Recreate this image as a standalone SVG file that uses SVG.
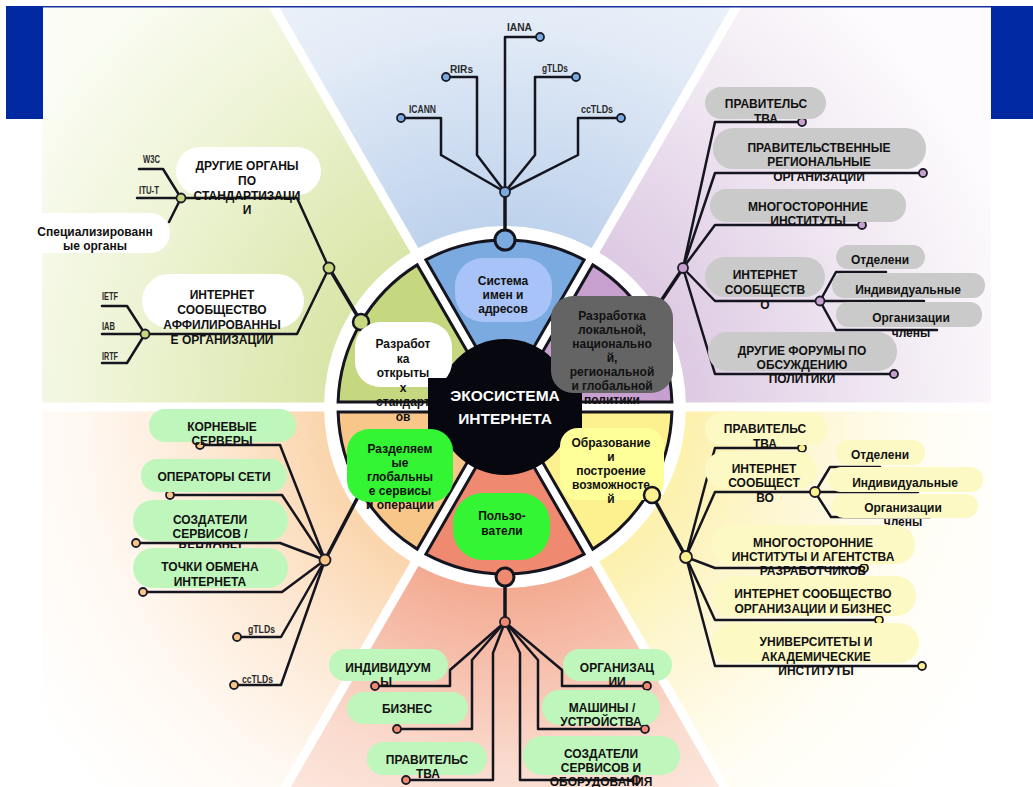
<svg xmlns="http://www.w3.org/2000/svg" width="1033" height="787" viewBox="0 0 1033 787">
<style>
.ln{fill:none;stroke:#15151f;stroke-width:2.5;stroke-linejoin:round;stroke-linecap:round}
.lt{fill:none;stroke:#15151f;stroke-width:3.5;stroke-linecap:round}
.seg{stroke:#15151f;stroke-width:3}
.dot{stroke:#1c1c28;stroke-width:1.8}
.bt{font-family:"Liberation Sans",Arial,sans-serif;font-weight:bold;font-size:12px;fill:#111;text-anchor:middle}
.sm{font-family:"Liberation Sans",Arial,sans-serif;font-weight:bold;font-size:11.5px;fill:#2a2a2a}
.eco{font-family:"Liberation Sans",Arial,sans-serif;font-weight:bold;font-size:15.5px;fill:#fff;text-anchor:middle}
.gray{fill:#cacaca}.wh{fill:#fff}.lg{fill:#bff6bc}.ly{fill:#fdf9c4}
.cb{fill:#7aaadf}.cg{fill:#c5d77f}.cl{fill:#c8a0cf}.co{fill:#f9c68a}.cs{fill:#ef8a70}.cy{fill:#fdf08f}
.band{stroke:#fff;stroke-width:9}
</style>
<defs>
<radialGradient id="gG" gradientUnits="userSpaceOnUse" cx="505" cy="407" r="560"><stop offset="0.3" stop-color="#d8e5a6"/><stop offset="0.7" stop-color="#eef4d6"/><stop offset="1" stop-color="#fbfdf5"/></radialGradient>
<radialGradient id="gB" gradientUnits="userSpaceOnUse" cx="505" cy="407" r="560"><stop offset="0.3" stop-color="#bcd1ec"/><stop offset="0.7" stop-color="#e4ecf7"/><stop offset="1" stop-color="#f5f8fc"/></radialGradient>
<radialGradient id="gL" gradientUnits="userSpaceOnUse" cx="505" cy="407" r="560"><stop offset="0.3" stop-color="#dcc8e2"/><stop offset="0.65" stop-color="#efe6f1"/><stop offset="0.95" stop-color="#fdfbfd"/></radialGradient>
<radialGradient id="gO" gradientUnits="userSpaceOnUse" cx="505" cy="407" r="560"><stop offset="0.3" stop-color="#fad3a8"/><stop offset="0.5" stop-color="#fde6cf"/><stop offset="0.75" stop-color="#fff8f1"/><stop offset="1" stop-color="#ffffff"/></radialGradient>
<radialGradient id="gS" gradientUnits="userSpaceOnUse" cx="505" cy="407" r="560"><stop offset="0.3" stop-color="#f3a78e"/><stop offset="0.65" stop-color="#fadccf"/><stop offset="1" stop-color="#fff5f1"/></radialGradient>
<radialGradient id="gY" gradientUnits="userSpaceOnUse" cx="505" cy="407" r="560"><stop offset="0.3" stop-color="#fcf0a8"/><stop offset="0.5" stop-color="#fdf6cf"/><stop offset="0.75" stop-color="#fffdf3"/><stop offset="1" stop-color="#ffffff"/></radialGradient>
</defs>
<rect width="1033" height="787" fill="#fff"/>
<g id="background">
<polygon points="505,407 273,7 0,7 0,407" fill="url(#gG)"/>
<polygon points="505,407 273,7 737,7" fill="url(#gB)"/>
<polygon points="505,407 737,7 1033,7 1033,407" fill="url(#gL)"/>
<polygon points="505,407 0,407 0,787 286,787" fill="url(#gO)"/>
<polygon points="505,407 286,787 724,787" fill="url(#gS)"/>
<polygon points="505,407 724,787 1033,787 1033,407" fill="url(#gY)"/>
<path class="band" d="M505,407 L268,-3 M505,407 L742,-3 M505,407 L281,795 M505,407 L729,795 M0,407 L1033,407"/>
<rect x="0" y="0" width="42" height="787" fill="#fff"/>
<rect x="991" y="0" width="42" height="787" fill="#fff"/>
<rect x="0" y="0" width="1033" height="6" fill="#fff"/>
<rect x="6" y="6" width="1027" height="1.5" fill="#1a2fa0"/>
<rect x="6" y="6" width="37" height="113" fill="#0028a0"/>
<rect x="991" y="6" width="42" height="113" fill="#0028a0"/>
</g>
<g id="wheel">
<circle cx="505" cy="407" r="181" fill="#fff"/>
<path class="seg cl" d="M671.9,402 A167,167 0 0 0 592.8,264.9 L539.2,357.7 A60,60 0 0 1 564.8,402 Z"/>
<path class="seg cb" d="M584.1,259.9 A167,167 0 0 0 425.9,259.9 L479.4,352.7 A60,60 0 0 1 530.6,352.7 Z"/>
<path class="seg cg" d="M417.2,264.9 A167,167 0 0 0 338.1,402 L445.2,402 A60,60 0 0 1 470.8,357.7 Z"/>
<path class="seg co" d="M338.1,412 A167,167 0 0 0 417.2,549.1 L470.8,456.3 A60,60 0 0 1 445.2,412 Z"/>
<path class="seg cs" d="M425.9,554.1 A167,167 0 0 0 584.1,554.1 L530.6,461.3 A60,60 0 0 1 479.4,461.3 Z"/>
<path class="seg cy" d="M592.8,549.1 A167,167 0 0 0 671.9,412 L564.8,412 A60,60 0 0 1 539.2,456.3 Z"/>
<circle cx="505" cy="407" r="68" fill="#07080f"/>
</g>
<g id="connectors">
<path class="lt" d="M505,240 L505,192"/>
<path class="ln" d="M505,192 L505,37 L540,37"/>
<path class="ln" d="M505,192 L477,155 L477,77 L446,77"/>
<path class="ln" d="M505,192 L441,155 L441,118 L401,118"/>
<path class="ln" d="M505,192 L535,155 L535,77 L576,77"/>
<path class="ln" d="M505,192 L578,155 L578,118 L621,118"/>
<circle class="cb" cx="505" cy="240" r="10" stroke="#15151f" stroke-width="3"/>
<circle class="dot cb" cx="505" cy="192" r="5"/>
<circle class="dot cb" cx="540" cy="37" r="4"/><circle class="dot cb" cx="446" cy="77" r="4"/><circle class="dot cb" cx="401" cy="118" r="4"/><circle class="dot cb" cx="576" cy="77" r="4"/><circle class="dot cb" cx="621" cy="118" r="4"/>

<path class="lt" d="M361,322 L329,268"/>
<path class="ln" d="M329,268 L297,198 L181,198"/>
<path class="ln" d="M329,268 L297,334 L145,334"/>
<path class="ln" d="M181,198 L163,169 L139,169"/>
<path class="ln" d="M181,198 L137,198"/>
<path class="ln" d="M181,198 L169,222"/>
<path class="ln" d="M145,334 L127,306 L102,306"/>
<path class="ln" d="M145,334 L102,334"/>
<path class="ln" d="M145,334 L127,363 L102,363"/>
<circle class="cg" cx="361" cy="322" r="8" stroke="#15151f" stroke-width="2.5"/>
<circle class="dot cg" cx="329" cy="268" r="5.5"/>
<circle class="dot cg" cx="181" cy="198" r="4.5"/>
<circle class="dot cg" cx="145" cy="334" r="4.5"/>

<path class="lt" d="M683,268 L645,325"/>
<path class="ln" d="M683,268 L715,122 L802,122"/>
<path class="ln" d="M683,268 L715,173 L923,173"/>
<path class="ln" d="M683,268 L715,225 L862,225"/>
<path class="ln" d="M683,268 L715,301 L820,301"/>
<path class="ln" d="M683,268 L715,374 L894,374"/>
<path class="ln" d="M820,301 L836,272 L886,272"/>
<path class="ln" d="M820,301 L924,301"/>
<path class="ln" d="M820,301 L836,330 L937,330"/>
<circle class="dot cl" cx="683" cy="268" r="5"/>
<circle class="dot cl" cx="820" cy="301" r="4.5"/>
<circle class="dot cl" cx="802" cy="122" r="4"/><circle class="dot cl" cx="923" cy="173" r="4"/><circle class="dot cl" cx="862" cy="225" r="4"/><circle class="dot cl" cx="894" cy="374" r="4"/>

<path class="lt" d="M372,470 L325,560"/>
<path class="ln" d="M325,560 L280,445 L200,445"/>
<path class="ln" d="M325,560 L282,495 L170,495"/>
<path class="ln" d="M325,560 L280,543 L136,543"/>
<path class="ln" d="M325,560 L282,592 L143,592"/>
<path class="ln" d="M325,560 L281,637 L237,637"/>
<path class="ln" d="M325,560 L281,685 L234,685"/>
<circle class="dot co" cx="325" cy="560" r="5.5"/>
<circle class="dot co" cx="200" cy="445" r="4"/><circle class="dot co" cx="170" cy="495" r="4"/><circle class="dot co" cx="136" cy="543" r="4"/><circle class="dot co" cx="143" cy="592" r="4"/><circle class="dot co" cx="237" cy="637" r="4"/><circle class="dot co" cx="234" cy="685" r="4"/>

<path class="lt" d="M505,577 L505,622"/>
<path class="ln" d="M505,622 L450,670 L450,686 L375,686"/>
<path class="ln" d="M505,622 L472,660 L472,729 L397,729"/>
<path class="ln" d="M505,622 L493,653 L493,780 L406,780"/>
<path class="ln" d="M505,622 L520,653 L520,780 L636,780"/>
<path class="ln" d="M505,622 L538,660 L538,729 L645,729"/>
<path class="ln" d="M505,622 L562,670 L562,686 L647,686"/>
<circle class="cs" cx="505" cy="577" r="9" stroke="#15151f" stroke-width="3"/>
<circle class="dot cs" cx="505" cy="622" r="5"/>
<circle class="dot cs" cx="375" cy="686" r="4"/><circle class="dot cs" cx="397" cy="729" r="4"/><circle class="dot cs" cx="406" cy="780" r="4"/><circle class="dot cs" cx="636" cy="780" r="4"/><circle class="dot cs" cx="645" cy="729" r="4"/><circle class="dot cs" cx="647" cy="686" r="4"/>

<path class="lt" d="M652,495 L686,557"/>
<path class="ln" d="M686,557 L715,448 L802,448"/>
<path class="ln" d="M686,557 L715,492 L815,492"/>
<path class="ln" d="M686,557 L715,568 L864,568"/>
<path class="ln" d="M686,557 L715,620 L879,620"/>
<path class="ln" d="M686,557 L715,666 L922,666"/>
<path class="ln" d="M815,492 L830,467 L880,467"/>
<path class="ln" d="M815,492 L918,492"/>
<path class="ln" d="M815,492 L831,517 L930,517"/>
<circle class="dot cy" cx="686" cy="557" r="6"/>
<circle class="dot cy" cx="815" cy="492" r="5"/>
<circle class="dot cy" cx="802" cy="448" r="4"/><circle class="dot cy" cx="864" cy="568" r="4"/><circle class="dot cy" cx="879" cy="620" r="4"/><circle class="dot cy" cx="922" cy="666" r="4"/>
</g>
<g id="wheel-labels">
<g id="w-names"><rect x="455" y="258" width="97" height="64" rx="28" fill="#a8c3f7"/>
<text class="bt"><tspan x="503" y="285">Система</tspan><tspan x="503" y="299">имен и</tspan><tspan x="503" y="313">адресов</tspan></text></g>
<g id="w-standards"><rect x="355" y="322" width="97" height="65" rx="25" fill="#fff"/>
<text class="bt"><tspan x="403" y="348">Разработ</tspan><tspan x="403" y="362.5">ка</tspan><tspan x="403" y="377">открыты</tspan><tspan x="403" y="391.5">х</tspan><tspan x="403" y="406">стандарт</tspan><tspan x="403" y="420.5">ов</tspan></text></g>
<g id="w-center"><rect x="428" y="378" width="154" height="55" fill="#07080f"/>
<text class="eco"><tspan x="505" y="401">ЭКОСИСТЕМА</tspan><tspan x="505" y="424">ИНТЕРНЕТА</tspan></text></g>
<g id="w-policy"><rect x="551" y="296" width="122" height="97" rx="22" fill="#646464"/>
<text class="bt"><tspan x="612" y="320">Разработка</tspan><tspan x="612" y="334">локальной,</tspan><tspan x="612" y="348">национально</tspan><tspan x="612" y="362">й,</tspan><tspan x="612" y="376">региональной</tspan><tspan x="612" y="390">и глобальной</tspan><tspan x="612" y="404">политики</tspan></text></g>
<g id="w-shared"><rect x="347" y="429" width="106" height="73" rx="22" fill="#33f533"/>
<text class="bt"><tspan x="400" y="453">Разделяем</tspan><tspan x="400" y="467">ые</tspan><tspan x="400" y="481">глобальны</tspan><tspan x="400" y="495">е сервисы</tspan><tspan x="400" y="509">и операции</tspan></text></g>
<g id="w-education"><rect x="560" y="428" width="104" height="72" rx="18" fill="#ffff99"/>
<text class="bt"><tspan x="611" y="447">Образование</tspan><tspan x="611" y="461">и</tspan><tspan x="611" y="475">построение</tspan><tspan x="611" y="489">возможносте</tspan><tspan x="611" y="503">й</tspan></text></g>
<g id="w-users"><rect x="453" y="493" width="97" height="67" rx="30" fill="#33f533"/>
<text class="bt"><tspan x="502" y="520">Пользо-</tspan><tspan x="502" y="535">ватели</tspan></text></g>
</g>
<g id="port-yellow"><circle class="cy" cx="652" cy="495" r="8" stroke="#15151f" stroke-width="2.5"/></g>
<g id="nodes">
<g id="n-iana"><text class="sm" x="507" y="31" textLength="25" lengthAdjust="spacingAndGlyphs">IANA</text></g>
<g id="n-rirs"><text class="sm" x="450" y="73" textLength="23" lengthAdjust="spacingAndGlyphs">RIRs</text></g>
<g id="n-icann"><text class="sm" x="409" y="113" textLength="27" lengthAdjust="spacingAndGlyphs">ICANN</text></g>
<g id="n-gtlds"><text class="sm" x="542" y="72" textLength="26" lengthAdjust="spacingAndGlyphs">gTLDs</text></g>
<g id="n-cctlds"><text class="sm" x="581" y="113" textLength="32" lengthAdjust="spacingAndGlyphs">ccTLDs</text></g>

<g id="n-w3c"><text class="sm" x="143" y="163" textLength="17" lengthAdjust="spacingAndGlyphs">W3C</text></g>
<g id="n-itut"><text class="sm" x="139" y="194" textLength="20" lengthAdjust="spacingAndGlyphs">ITU-T</text></g>
<g id="n-ietf"><text class="sm" x="102" y="300" textLength="16" lengthAdjust="spacingAndGlyphs">IETF</text></g>
<g id="n-iab"><text class="sm" x="102" y="330" textLength="13" lengthAdjust="spacingAndGlyphs">IAB</text></g>
<g id="n-irtf"><text class="sm" x="102" y="360" textLength="16" lengthAdjust="spacingAndGlyphs">IRTF</text></g>
<g id="n-other-std"><rect class="wh" x="176" y="147" width="145" height="48" rx="24"/>
<text class="bt"><tspan x="247" y="170">ДРУГИЕ ОРГАНЫ</tspan><tspan x="247" y="185">ПО</tspan><tspan x="247" y="200">СТАНДАРТИЗАЦИ</tspan><tspan x="247" y="214">И</tspan></text></g>
<g id="n-special"><rect class="wh" x="24" y="213" width="146" height="40" rx="20"/>
<text class="bt"><tspan x="95" y="236">Специализированн</tspan><tspan x="95" y="250">ые органы</tspan></text></g>
<g id="n-isoc-aff"><rect class="wh" x="142" y="274" width="162" height="54" rx="27"/>
<text class="bt"><tspan x="222" y="299">ИНТЕРНЕТ</tspan><tspan x="222" y="314">СООБЩЕСТВО</tspan><tspan x="222" y="329">АФФИЛИРОВАННЫ</tspan><tspan x="222" y="344">Е ОРГАНИЗАЦИИ</tspan></text></g>

<g id="n-gov-l"><rect class="gray" x="705" y="87" width="121" height="32" rx="16"/>
<text class="bt"><tspan x="766" y="108">ПРАВИТЕЛЬС</tspan><tspan x="766" y="123">ТВА</tspan></text></g>
<g id="n-regorg-l"><rect class="gray" x="713" y="128" width="213" height="41" rx="20"/>
<text class="bt"><tspan x="819" y="152">ПРАВИТЕЛЬСТВЕННЫЕ</tspan><tspan x="819" y="166">РЕГИОНАЛЬНЫЕ</tspan><tspan x="819" y="181">ОРГАНИЗАЦИИ</tspan></text></g>
<g id="n-multi-l"><rect class="gray" x="710" y="189" width="196" height="33" rx="16"/>
<text class="bt"><tspan x="808" y="211">МНОГОСТОРОННИЕ</tspan><tspan x="808" y="225">ИНСТИТУТЫ</tspan></text></g>
<g id="n-isoc-l"><rect class="gray" x="705" y="257" width="120" height="40" rx="20"/>
<text class="bt"><tspan x="765" y="279">ИНТЕРНЕТ</tspan><tspan x="765" y="294">СООБЩЕСТВ</tspan><tspan x="765" y="309">О</tspan></text></g>
<g id="n-chap-l"><rect class="gray" x="836" y="245" width="89" height="24" rx="12"/>
<text class="bt" x="880" y="264">Отделени</text></g>
<g id="n-ind-l"><rect class="gray" x="832" y="273" width="153" height="25" rx="12"/>
<text class="bt" x="908" y="294">Индивидуальные</text></g>
<g id="n-org-l"><rect class="gray" x="836" y="302" width="146" height="25" rx="12"/>
<text class="bt"><tspan x="911" y="322">Организации</tspan><tspan x="911" y="337">члены</tspan></text></g>
<g id="n-forums-l"><rect class="gray" x="708" y="332" width="189" height="39" rx="19"/>
<text class="bt"><tspan x="802" y="355">ДРУГИЕ ФОРУМЫ ПО</tspan><tspan x="802" y="369">ОБСУЖДЕНИЮ</tspan><tspan x="802" y="383">ПОЛИТИКИ</tspan></text></g>

<g id="n-root"><rect class="lg" x="149" y="409" width="147" height="33" rx="16"/>
<text class="bt"><tspan x="222" y="431">КОРНЕВЫЕ</tspan><tspan x="222" y="445">СЕРВЕРЫ</tspan></text></g>
<g id="n-netops"><rect class="lg" x="141" y="459" width="146" height="33" rx="16"/>
<text class="bt" x="214" y="481">ОПЕРАТОРЫ СЕТИ</text></g>
<g id="n-vendors"><rect class="lg" x="133" y="500" width="155" height="41" rx="20"/>
<text class="bt"><tspan x="210" y="524">СОЗДАТЕЛИ</tspan><tspan x="210" y="538">СЕРВИСОВ /</tspan><tspan x="210" y="552">ВЕНДОРЫ</tspan></text></g>
<g id="n-ixp"><rect class="lg" x="133" y="548" width="155" height="40" rx="20"/>
<text class="bt"><tspan x="210" y="571">ТОЧКИ ОБМЕНА</tspan><tspan x="210" y="586">ИНТЕРНЕТА</tspan></text></g>
<g id="n-gtlds-o"><text class="sm" x="248" y="633" textLength="27" lengthAdjust="spacingAndGlyphs">gTLDs</text></g>
<g id="n-cctlds-o"><text class="sm" x="242" y="683" textLength="31" lengthAdjust="spacingAndGlyphs">ccTLDs</text></g>

<g id="n-indiv"><rect class="lg" x="329" y="649" width="119" height="32" rx="16"/>
<text class="bt"><tspan x="388" y="672">ИНДИВИДУУМ</tspan><tspan x="386" y="686">Ы</tspan></text></g>
<g id="n-biz"><rect class="lg" x="347" y="692" width="121" height="32" rx="16"/>
<text class="bt" x="407" y="713">БИЗНЕС</text></g>
<g id="n-gov-s"><rect class="lg" x="367" y="742" width="120" height="33" rx="16"/>
<text class="bt"><tspan x="427" y="764">ПРАВИТЕЛЬС</tspan><tspan x="428" y="778">ТВА</tspan></text></g>
<g id="n-orgs-s"><rect class="lg" x="563" y="649" width="109" height="32" rx="16"/>
<text class="bt"><tspan x="617" y="672">ОРГАНИЗАЦ</tspan><tspan x="617" y="686">ИИ</tspan></text></g>
<g id="n-machines"><rect class="lg" x="542" y="690" width="118" height="35" rx="17"/>
<text class="bt"><tspan x="602" y="712">МАШИНЫ /</tspan><tspan x="601" y="726">УСТРОЙСТВА</tspan></text></g>
<g id="n-makers"><rect class="lg" x="523" y="736" width="157" height="39" rx="19"/>
<text class="bt"><tspan x="601" y="758">СОЗДАТЕЛИ</tspan><tspan x="601" y="772">СЕРВИСОВ И</tspan><tspan x="601" y="786">ОБОРУДОВАНИЯ</tspan></text></g>

<g id="n-gov-y"><rect class="ly" x="705" y="413" width="122" height="32" rx="16"/>
<text class="bt"><tspan x="765" y="433">ПРАВИТЕЛЬС</tspan><tspan x="765" y="448">ТВА</tspan></text></g>
<g id="n-isoc-y"><rect class="ly" x="705" y="452" width="112" height="36" rx="18"/>
<text class="bt"><tspan x="764" y="473">ИНТЕРНЕТ</tspan><tspan x="764" y="487">СООБЩЕСТ</tspan><tspan x="765" y="502">ВО</tspan></text></g>
<g id="n-chap-y"><rect class="ly" x="836" y="440" width="89" height="25" rx="12"/>
<text class="bt" x="880" y="459">Отделени</text></g>
<g id="n-ind-y"><rect class="ly" x="829" y="467" width="154" height="25" rx="12"/>
<text class="bt" x="905" y="487">Индивидуальные</text></g>
<g id="n-org-y"><rect class="ly" x="832" y="494" width="146" height="24" rx="12"/>
<text class="bt"><tspan x="903" y="512">Организации</tspan><tspan x="903" y="526">члены</tspan></text></g>
<g id="n-multi-y"><rect class="ly" x="712" y="525" width="203" height="39" rx="19"/>
<text class="bt"><tspan x="813" y="547">МНОГОСТОРОННИЕ</tspan><tspan x="813" y="561">ИНСТИТУТЫ И АГЕНТСТВА</tspan><tspan x="813" y="575">РАЗРАБОТЧИКОВ</tspan></text></g>
<g id="n-isocbiz-y"><rect class="ly" x="712" y="576" width="204" height="40" rx="20"/>
<text class="bt"><tspan x="813" y="598">ИНТЕРНЕТ СООБЩЕСТВО</tspan><tspan x="813" y="613">ОРГАНИЗАЦИИ И БИЗНЕС</tspan></text></g>
<g id="n-univ-y"><rect class="ly" x="712" y="623" width="207" height="40" rx="20"/>
<text class="bt"><tspan x="816" y="646">УНИВЕРСИТЕТЫ И</tspan><tspan x="816" y="661">АКАДЕМИЧЕСКИЕ</tspan><tspan x="816" y="675">ИНСТИТУТЫ</tspan></text></g>
</g>
</svg>
